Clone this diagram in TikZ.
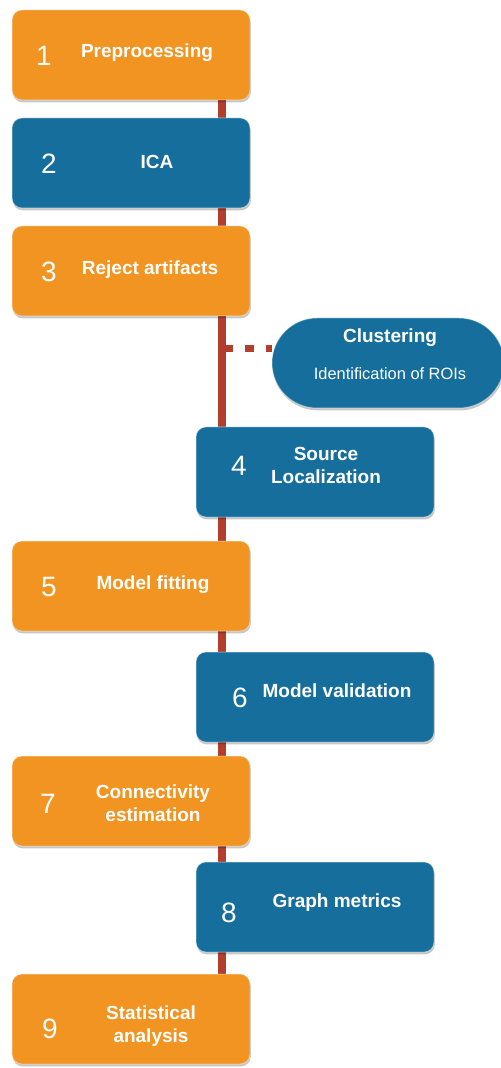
\documentclass[tikz,border=0pt]{standalone}
\usepackage{fontspec}
\setmainfont{Liberation Sans}
\usetikzlibrary{shadows}
\definecolor{stepor}{HTML}{F29422}
\definecolor{stepbl}{HTML}{166E9C}
\definecolor{spine}{HTML}{B23F2E}
\tikzset{
  stepbox/.style={rounded corners=5pt, minimum width=119pt, minimum height=45pt,
    inner sep=0pt, draw=white, draw opacity=0.35, line width=0.5pt,
    drop shadow={shadow xshift=0.4pt, shadow yshift=-1.2pt, opacity=0.22, fill=black}},
  orbox/.style={stepbox, fill=stepor},
  blbox/.style={stepbox, fill=stepbl},
  num/.style={text=white, font=\fontsize{14}{16}\selectfont, inner sep=0pt},
  lab/.style={text=white, font=\bfseries\fontsize{9.5}{11.5}\selectfont, align=center, inner sep=0pt},
  sub/.style={text=white, font=\fontsize{8.2}{10}\selectfont, inner sep=0pt},
}
\begin{document}
\begin{tikzpicture}[x=0.5pt, y=-0.5pt]
\useasboundingbox (0,0) rectangle (500,1068);

% spine behind the steps
\coordinate (top) at (222,12);
\coordinate (bot) at (222,1000);
\draw[spine, line width=4pt] (top) -- (bot);

% dotted branch to the clustering step
\coordinate (br) at (224,349);
\node[blbox, rounded corners=22.5pt, minimum width=116pt] (cl) at (388,363) {};
\draw[spine, line width=3.5pt, dash pattern=on 4.5pt off 6pt] (br) -- (cl.west |- br);
\node[lab] (clt) at (390,338) {Clustering};
\node[sub] (cls) at (390,374) {Identification of ROIs};

% steps
\node[orbox] (b1) at (131,55) {};
\node[num] at (44,56) {1};
\node[lab] at (147,53) {Preprocessing};

\node[blbox] (b2) at (131,163) {};
\node[num] at (49,164) {2};
\node[lab] at (157,162) {ICA};

\node[orbox] (b3) at (131,271) {};
\node[num] at (49,272) {3};
\node[lab] at (150,270) {Reject artifacts};

\node[blbox] (b4) at (315,472) {};
\node[num] at (239,466) {4};
\node[lab] at (326,465) {Source\\Localization};

\node[orbox] (b5) at (131,586) {};
\node[num] at (49,587) {5};
\node[lab] at (153,585) {Model fitting};

\node[blbox] (b6) at (315,697) {};
\node[num] at (240,698) {6};
\node[lab] at (337,691) {Model validation};

\node[orbox] (b7) at (131,801) {};
\node[num] at (48,804) {7};
\node[lab] at (153,803) {Connectivity\\estimation};

\node[blbox] (b8) at (315,907) {};
\node[num] at (229,913) {8};
\node[lab] at (337,903) {Graph metrics};

\node[orbox] (b9) at (131,1019) {};
\node[num] at (50,1029) {9};
\node[lab] at (151,1026) {Statistical\\analysis};
\end{tikzpicture}
\end{document}
